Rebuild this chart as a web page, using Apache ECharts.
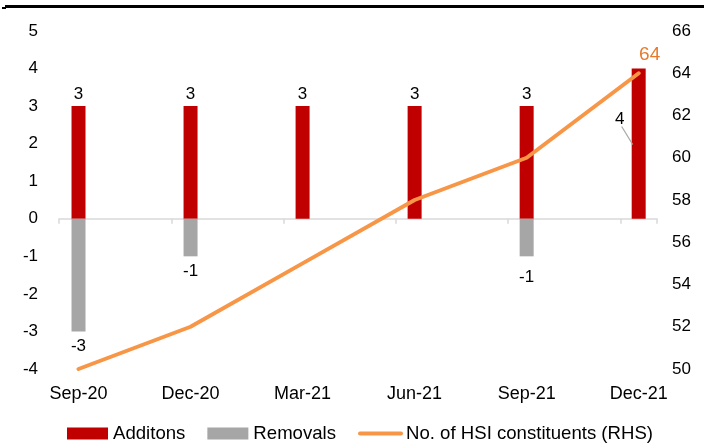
<!DOCTYPE html>
<html><head><meta charset="utf-8">
<script src="https://cdn.jsdelivr.net/npm/echarts@6/dist/echarts.min.js"></script>
<style>html,body{margin:0;padding:0;background:#fff}#c{width:704px;height:445px}</style>
</head><body><div id="c"></div>
<script>
const categories = ['Sep-20', 'Dec-20', 'Mar-21', 'Jun-21', 'Sep-21', 'Dec-21'];
const additions = [3, 3, 3, 3, 3, 4];
const removals = [-3, -1, null, null, -1, null];
const constituents = [50, 52, 55, 58, 60, 64];
const leftAxis = { min: -4, max: 5, interval: 1 };
const rightAxis = { min: 50, max: 66, interval: 2 };

const FONT = 'Liberation Sans, Arial, sans-serif';
const chart = echarts.init(document.getElementById('c'), null, { renderer: 'canvas' });

const gridTop = 31, gridBottom = 76;
const baseGraphic = [
  { type: 'rect', shape: { x: 5, y: 5, width: 699, height: 3 }, style: { fill: '#000' } },
  { type: 'rect', shape: { x: 2, y: 7, width: 4, height: 2 }, style: { fill: '#000' } }
];
const option = {
  animation: false,
  backgroundColor: '#fff',
  textStyle: { fontFamily: FONT, color: '#000' },
  graphic: baseGraphic,
  grid: [
    { left: 59, right: 47, top: gridTop, bottom: gridBottom },
    { left: 22.5, right: 9.3, top: gridTop, bottom: gridBottom }
  ],
  xAxis: [
    { gridIndex: 0, type: 'value', min: 0, max: 5.325, interval: 1,
      axisLine: { show: true, onZero: true, lineStyle: { color: '#D9D9D9', width: 1.5 } },
      axisTick: { show: true, length: 5, lineStyle: { color: '#D9D9D9', width: 1.5 } },
      axisLabel: { show: false }, splitLine: { show: false } },
    { gridIndex: 1, type: 'category', data: categories, boundaryGap: true,
      axisLine: { show: false, onZero: false }, axisTick: { show: false },
      axisLabel: { color: '#000', fontSize: 18, fontFamily: FONT, margin: 16 } }
  ],
  yAxis: [
    { gridIndex: 0, type: 'value', position: 'left', min: leftAxis.min, max: leftAxis.max, interval: leftAxis.interval,
      axisLine: { show: false }, axisTick: { show: false }, splitLine: { show: false },
      axisLabel: { color: '#000', fontSize: 17, fontFamily: FONT, margin: 21 } },
    { gridIndex: 0, type: 'value', position: 'right', min: rightAxis.min, max: rightAxis.max, interval: rightAxis.interval,
      axisLine: { show: false }, axisTick: { show: false }, splitLine: { show: false },
      axisLabel: { color: '#000', fontSize: 17, fontFamily: FONT, margin: 15 } },
    { gridIndex: 1, type: 'value', position: 'left', min: leftAxis.min, max: leftAxis.max, interval: leftAxis.interval, show: false },
    { gridIndex: 1, type: 'value', position: 'right', min: rightAxis.min, max: rightAxis.max, interval: rightAxis.interval, show: false }
  ],
  legend: {
    left: 67, top: 424, padding: 0, itemWidth: 41, itemHeight: 12, itemGap: 22,
    textStyle: { fontSize: 18.6, color: '#000', fontFamily: FONT },
    data: [
      { name: 'Additons', icon: 'rect' },
      { name: 'Removals', icon: 'rect' },
      { name: 'No. of HSI constituents (RHS)', itemStyle: { opacity: 0 },
        lineStyle: { width: 4, color: '#F79646', cap: 'round' } }
    ]
  },
  series: [
    { name: 'Additons', type: 'bar', xAxisIndex: 1, yAxisIndex: 2, stack: 'flow', barWidth: 14,
      itemStyle: { color: '#C00000' },
      data: additions,
      label: { show: true, position: 'top', distance: 3, color: '#000', fontSize: 17, fontFamily: FONT },
      labelLayout: function (p) {
        if (p.dataIndex === additions.length - 1) return { dx: -19, dy: 62 };
        return {};
      }
    },
    { name: 'Removals', type: 'bar', xAxisIndex: 1, yAxisIndex: 2, stack: 'flow', barWidth: 14,
      itemStyle: { color: '#A6A6A6' },
      data: removals.map((v, i) => (v == null ? null : {
        value: v,
        label: { distance: i === 4 ? 12 : 6 }
      })),
      label: { show: true, position: 'bottom', distance: 6, color: '#000', fontSize: 17, fontFamily: FONT }
    },
    { name: 'No. of HSI constituents (RHS)', type: 'line', xAxisIndex: 1, yAxisIndex: 3,
      data: constituents.map((v, i) => (i === constituents.length - 1 ? {
        value: v,
        label: { show: true, position: 'top', distance: 9, offset: [11, 0], color: '#E97A2C', fontSize: 19, fontFamily: FONT }
      } : v)),
      symbol: 'circle', symbolSize: 0, showSymbol: true,
      lineStyle: { color: '#F79646', width: 4, cap: 'round' },
      itemStyle: { color: '#F79646' },
      z: 5
    }
  ]
};
chart.setOption(option);

// leader line for the moved "4" label, anchored to the Dec-21 bar top via the library's scales
const last = categories.length - 1;
const p = chart.convertToPixel({ xAxisIndex: 1, yAxisIndex: 2 }, [last, additions[last]]);
chart.setOption({
  graphic: baseGraphic.concat([{
    type: 'line', z: 10,
    shape: { x1: p[0] - 17, y1: p[1] + 58, x2: p[0] - 6, y2: p[1] + 76 },
    style: { stroke: '#A6A6A6', lineWidth: 1.2 }
  }])
});
</script>
</body></html>
